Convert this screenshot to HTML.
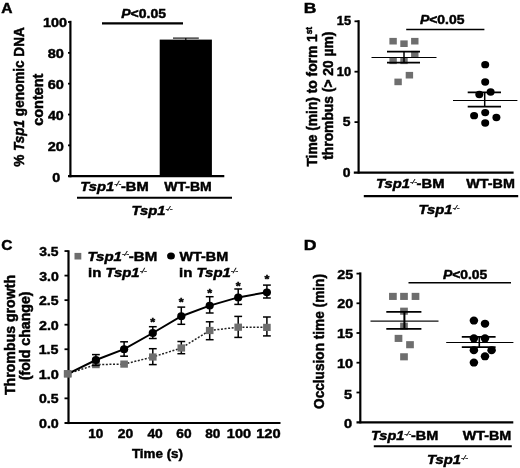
<!DOCTYPE html>
<html><head><meta charset="utf-8"><title>Figure</title>
<style>html,body{margin:0;padding:0;background:#fff}svg{display:block}text{font-family:"Liberation Sans",Arial,sans-serif;font-weight:bold;fill:#000;stroke:#000;stroke-width:0.45px}</style>
</head><body>
<svg width="520" height="468" viewBox="0 0 520 468">
<rect width="520" height="468" fill="#fff"/>
<text transform="translate(1.34,13.30) scale(1.1135,1)" font-size="14">A</text>
<line x1="70.4" y1="20.8" x2="70.4" y2="177.3" stroke="#000" stroke-width="2.2" />
<line x1="68" y1="176.2" x2="224.3" y2="176.2" stroke="#000" stroke-width="2.2" />
<text transform="translate(52.35,182.20) scale(1.1040,1)" font-size="13">0</text>
<line x1="68" y1="145.36" x2="70.4" y2="145.36" stroke="#000" stroke-width="1.8" />
<text transform="translate(47.64,150.80) scale(1.1185,1)" font-size="13">20</text>
<line x1="68" y1="114.52" x2="70.4" y2="114.52" stroke="#000" stroke-width="1.8" />
<text transform="translate(47.93,120.10) scale(1.0982,1)" font-size="13">40</text>
<line x1="68" y1="83.68" x2="70.4" y2="83.68" stroke="#000" stroke-width="1.8" />
<text transform="translate(47.64,88.50) scale(1.1185,1)" font-size="13">60</text>
<line x1="68" y1="52.84" x2="70.4" y2="52.84" stroke="#000" stroke-width="1.8" />
<text transform="translate(47.64,57.70) scale(1.1185,1)" font-size="13">80</text>
<line x1="68" y1="22.0" x2="70.4" y2="22.0" stroke="#000" stroke-width="1.8" />
<text transform="translate(43.07,27.20) scale(1.1062,1)" font-size="13">100</text>
<rect x="159.7" y="39.6" width="52.2" height="137.2" fill="#000"/>
<line x1="185.8" y1="38" x2="185.8" y2="40" stroke="#000" stroke-width="1.2" />
<line x1="173" y1="38.1" x2="198.8" y2="38.1" stroke="#000" stroke-width="1.1" />
<text transform="translate(121.22,18.00) scale(1.1210,1)" font-size="12.5"><tspan font-style="italic">P</tspan>&lt;0.05</text>
<line x1="102" y1="23.3" x2="183" y2="23.3" stroke="#000" stroke-width="2.2" />
<text transform="translate(24.40,166.87) rotate(-90) scale(1.0859,1.12)" font-size="12.5">% <tspan font-style="italic">Tsp1</tspan> genomic DNA</text>
<text transform="translate(42.90,125.68) rotate(-90) scale(1.1528,1.12)" font-size="12.5">content</text>
<text transform="translate(80.32,190.50) scale(1.1787,1)" font-size="12.5"><tspan font-style="italic">Tsp1</tspan><tspan font-style="italic" font-size="7" dy="-4.2" letter-spacing="-0.3" style="stroke-width:0.25px;font-weight:normal">-/-</tspan><tspan dy="4.2">-BM</tspan></text>
<text transform="translate(164.20,191.30) scale(1.1229,1)" font-size="12.5">WT-BM</text>
<line x1="77" y1="197.7" x2="232" y2="197.7" stroke="#000" stroke-width="2.1" />
<text transform="translate(131.52,215.30) scale(1.1821,1)" font-size="12.5"><tspan font-style="italic">Tsp1</tspan><tspan font-style="italic" font-size="7" dy="-4.2" letter-spacing="-0.3" style="stroke-width:0.25px;font-weight:normal">-/-</tspan></text>
<text transform="translate(303.75,12.80) scale(1.2471,1)" font-size="14">B</text>
<line x1="358.6" y1="20.2" x2="358.6" y2="173.6" stroke="#000" stroke-width="2.2" />
<line x1="353.8" y1="172.7" x2="513.6" y2="172.7" stroke="#000" stroke-width="2.2" />
<text transform="translate(342.76,176.80) scale(1.0720,1)" font-size="13">0</text>
<line x1="354.5" y1="122.1" x2="358.8" y2="122.1" stroke="#000" stroke-width="1.8" />
<text transform="translate(342.76,126.40) scale(1.0720,1)" font-size="13">5</text>
<line x1="354.5" y1="71.7" x2="358.8" y2="71.7" stroke="#000" stroke-width="1.8" />
<text transform="translate(336.76,75.70) scale(0.9887,1)" font-size="13">10</text>
<line x1="354.5" y1="21.3" x2="358.8" y2="21.3" stroke="#000" stroke-width="1.8" />
<text transform="translate(336.76,24.90) scale(0.9887,1)" font-size="13">15</text>
<text transform="translate(316.50,166.58) rotate(-90) scale(1.1042,1.12)" font-size="12.5">Time (min) to form 1<tspan font-size="7.5" dy="-4">st</tspan></text>
<text transform="translate(332.80,159.78) rotate(-90) scale(1.1070,1.12)" font-size="12.5">thrombus (&gt; 20 µm)</text>
<text transform="translate(419.92,23.50) scale(1.1159,1)" font-size="12.5"><tspan font-style="italic">P</tspan>&lt;0.05</text>
<line x1="406.2" y1="29.4" x2="484.4" y2="29.4" stroke="#000" stroke-width="1.5" />
<rect x="389.4" y="37.9" width="7.4" height="6.6" fill="#6e6e6e"/>
<rect x="400.3" y="40.4" width="7.4" height="6.6" fill="#6e6e6e"/>
<rect x="411.1" y="37.9" width="7.4" height="6.6" fill="#6e6e6e"/>
<rect x="411.1" y="50.9" width="7.4" height="6.6" fill="#6e6e6e"/>
<rect x="389.4" y="57.5" width="7.4" height="6.6" fill="#6e6e6e"/>
<rect x="400.3" y="57.5" width="7.4" height="6.6" fill="#6e6e6e"/>
<rect x="405.7" y="71.9" width="7.4" height="6.6" fill="#6e6e6e"/>
<rect x="394.4" y="78.6" width="7.4" height="6.6" fill="#6e6e6e"/>
<line x1="371.5" y1="57.5" x2="436.5" y2="57.5" stroke="#000" stroke-width="1.2" />
<line x1="387" y1="51.7" x2="420" y2="51.7" stroke="#000" stroke-width="1.7" />
<line x1="387" y1="62.7" x2="420" y2="62.7" stroke="#000" stroke-width="1.7" />
<line x1="404" y1="51.7" x2="404" y2="62.7" stroke="#000" stroke-width="1.5" />
<ellipse cx="485.2" cy="64.7" rx="4.0" ry="3.65" fill="#000"/>
<ellipse cx="485.2" cy="82" rx="4.0" ry="3.65" fill="#000"/>
<ellipse cx="479.3" cy="94.5" rx="4.0" ry="3.65" fill="#000"/>
<ellipse cx="490.6" cy="92" rx="4.0" ry="3.65" fill="#000"/>
<ellipse cx="485.2" cy="112.6" rx="4.0" ry="3.65" fill="#000"/>
<ellipse cx="474.1" cy="115.7" rx="4.0" ry="3.65" fill="#000"/>
<ellipse cx="496.4" cy="117.5" rx="4.0" ry="3.65" fill="#000"/>
<ellipse cx="485.2" cy="123" rx="4.0" ry="3.65" fill="#000"/>
<line x1="453" y1="100.5" x2="517.4" y2="100.5" stroke="#000" stroke-width="1.2" />
<line x1="467.7" y1="92.4" x2="501" y2="92.4" stroke="#000" stroke-width="1.7" />
<line x1="467.7" y1="106.6" x2="501" y2="106.6" stroke="#000" stroke-width="1.7" />
<line x1="484.7" y1="92.4" x2="484.7" y2="106.6" stroke="#000" stroke-width="1.5" />
<text transform="translate(376.02,188.20) scale(1.1804,1)" font-size="12.5"><tspan font-style="italic">Tsp1</tspan><tspan font-style="italic" font-size="7" dy="-4.2" letter-spacing="-0.3" style="stroke-width:0.25px;font-weight:normal">-/-</tspan><tspan dy="4.2">-BM</tspan></text>
<text transform="translate(466.30,188.30) scale(1.1470,1)" font-size="12.5">WT-BM</text>
<line x1="363.8" y1="196.1" x2="518.2" y2="196.1" stroke="#000" stroke-width="2.1" />
<text transform="translate(418.52,213.70) scale(1.1821,1)" font-size="12.5"><tspan font-style="italic">Tsp1</tspan><tspan font-style="italic" font-size="7" dy="-4.2" letter-spacing="-0.3" style="stroke-width:0.25px;font-weight:normal">-/-</tspan></text>
<text transform="translate(1.35,250.20) scale(1.1027,1)" font-size="14">C</text>
<line x1="68.5" y1="250.3" x2="68.5" y2="424.1" stroke="#000" stroke-width="2.2" />
<line x1="64.5" y1="423" x2="280.5" y2="423" stroke="#000" stroke-width="2.2" />
<text transform="translate(38.95,428.00) scale(1.1000,1)" font-size="13">0.0</text>
<line x1="64.5" y1="398.35" x2="68.5" y2="398.35" stroke="#000" stroke-width="1.8" />
<text transform="translate(38.96,403.45) scale(1.0841,1)" font-size="13">0.5</text>
<line x1="64.5" y1="373.8" x2="68.5" y2="373.8" stroke="#000" stroke-width="1.8" />
<text transform="translate(38.66,378.90) scale(1.1164,1)" font-size="13">1.0</text>
<line x1="64.5" y1="349.25" x2="68.5" y2="349.25" stroke="#000" stroke-width="1.8" />
<text transform="translate(38.67,354.35) scale(1.1000,1)" font-size="13">1.5</text>
<line x1="64.5" y1="324.7" x2="68.5" y2="324.7" stroke="#000" stroke-width="1.8" />
<text transform="translate(38.95,329.80) scale(1.1000,1)" font-size="13">2.0</text>
<line x1="64.5" y1="300.15" x2="68.5" y2="300.15" stroke="#000" stroke-width="1.8" />
<text transform="translate(38.96,305.25) scale(1.0841,1)" font-size="13">2.5</text>
<line x1="64.5" y1="275.6" x2="68.5" y2="275.6" stroke="#000" stroke-width="1.8" />
<text transform="translate(39.23,280.70) scale(1.0841,1)" font-size="13">3.0</text>
<line x1="64.5" y1="251.05" x2="68.5" y2="251.05" stroke="#000" stroke-width="1.8" />
<text transform="translate(39.23,256.15) scale(1.0686,1)" font-size="13">3.5</text>
<text transform="translate(15.20,395.08) rotate(-90) scale(1.1325,1.12)" font-size="12.5">Thrombus growth</text>
<text transform="translate(30.20,380.25) rotate(-90) scale(1.1325,1.12)" font-size="12.5">(fold change)</text>
<text transform="translate(88.22,437.70) scale(1.0415,1)" font-size="13">10</text>
<text transform="translate(117.87,437.70) scale(1.0667,1)" font-size="13">20</text>
<text transform="translate(147.43,437.70) scale(1.0618,1)" font-size="13">40</text>
<text transform="translate(176.37,437.70) scale(1.0519,1)" font-size="13">60</text>
<text transform="translate(205.18,437.70) scale(1.0444,1)" font-size="13">80</text>
<text transform="translate(226.86,437.70) scale(1.1160,1)" font-size="13">100</text>
<text transform="translate(256.16,437.70) scale(1.1259,1)" font-size="13">120</text>
<text transform="translate(131.93,458.00) scale(1.0717,1)" font-size="12.5">Time (s)</text>
<rect x="74.5" y="252.9" width="6.8" height="6.6" fill="#6e6e6e"/>
<text transform="translate(87.50,260.50) scale(1.2018,1)" font-size="12.5"><tspan font-style="italic">Tsp1</tspan><tspan font-style="italic" font-size="7" dy="-4.2" letter-spacing="-0.3" style="stroke-width:0.25px;font-weight:normal">-/-</tspan><tspan dy="4.2">-BM</tspan></text>
<text transform="translate(88.00,277.30) scale(1.1938,1)" font-size="12.5">in <tspan font-style="italic">Tsp1</tspan><tspan font-style="italic" font-size="7" dy="-4.2" letter-spacing="-0.3" style="stroke-width:0.25px;font-weight:normal">-/-</tspan></text>
<ellipse cx="171" cy="255.9" rx="3.9" ry="3.5" fill="#000"/>
<text transform="translate(179.40,260.50) scale(1.1518,1)" font-size="12.5">WT-BM</text>
<text transform="translate(179.10,277.30) scale(1.1959,1)" font-size="12.5">in <tspan font-style="italic">Tsp1</tspan><tspan font-style="italic" font-size="7" dy="-4.2" letter-spacing="-0.3" style="stroke-width:0.25px;font-weight:normal">-/-</tspan></text>
<polyline points="67.7,373.8 95.9,364.6 124.1,364.1 152.8,357 181.3,348 209.7,330.5 238.2,327.2 266.9,327.4" fill="none" stroke="#222" stroke-width="1.5" stroke-dasharray="2 1.6"/>
<line x1="152.8" y1="348.7" x2="152.8" y2="364.6" stroke="#000" stroke-width="1.5" />
<line x1="148.9" y1="348.7" x2="156.70000000000002" y2="348.7" stroke="#000" stroke-width="1.5" />
<line x1="148.9" y1="364.6" x2="156.70000000000002" y2="364.6" stroke="#000" stroke-width="1.5" />
<line x1="181.3" y1="341.5" x2="181.3" y2="353.7" stroke="#000" stroke-width="1.5" />
<line x1="177.4" y1="341.5" x2="185.20000000000002" y2="341.5" stroke="#000" stroke-width="1.5" />
<line x1="177.4" y1="353.7" x2="185.20000000000002" y2="353.7" stroke="#000" stroke-width="1.5" />
<line x1="209.7" y1="321.8" x2="209.7" y2="339.7" stroke="#000" stroke-width="1.5" />
<line x1="205.79999999999998" y1="321.8" x2="213.6" y2="321.8" stroke="#000" stroke-width="1.5" />
<line x1="205.79999999999998" y1="339.7" x2="213.6" y2="339.7" stroke="#000" stroke-width="1.5" />
<line x1="238.2" y1="316.4" x2="238.2" y2="337.4" stroke="#000" stroke-width="1.5" />
<line x1="234.29999999999998" y1="316.4" x2="242.1" y2="316.4" stroke="#000" stroke-width="1.5" />
<line x1="234.29999999999998" y1="337.4" x2="242.1" y2="337.4" stroke="#000" stroke-width="1.5" />
<line x1="266.9" y1="317" x2="266.9" y2="335.9" stroke="#000" stroke-width="1.5" />
<line x1="263.0" y1="317" x2="270.79999999999995" y2="317" stroke="#000" stroke-width="1.5" />
<line x1="263.0" y1="335.9" x2="270.79999999999995" y2="335.9" stroke="#000" stroke-width="1.5" />
<rect x="63.9" y="370.2" width="7.6" height="7.2" fill="#6e6e6e"/>
<rect x="92.1" y="361.0" width="7.6" height="7.2" fill="#6e6e6e"/>
<rect x="120.3" y="360.5" width="7.6" height="7.2" fill="#6e6e6e"/>
<rect x="149.0" y="353.4" width="7.6" height="7.2" fill="#6e6e6e"/>
<rect x="177.5" y="344.4" width="7.6" height="7.2" fill="#6e6e6e"/>
<rect x="205.9" y="326.9" width="7.6" height="7.2" fill="#6e6e6e"/>
<rect x="234.4" y="323.6" width="7.6" height="7.2" fill="#6e6e6e"/>
<rect x="263.1" y="323.8" width="7.6" height="7.2" fill="#6e6e6e"/>
<polyline points="67.7,373.8 95.9,360 124.1,349.2 152.8,333 181.3,316.2 209.7,305.6 238.2,297.4 266.9,292.3" fill="none" stroke="#000" stroke-width="2"/>
<line x1="95.9" y1="354.6" x2="95.9" y2="365.4" stroke="#000" stroke-width="1.5" />
<line x1="92.0" y1="354.6" x2="99.80000000000001" y2="354.6" stroke="#000" stroke-width="1.5" />
<line x1="92.0" y1="365.4" x2="99.80000000000001" y2="365.4" stroke="#000" stroke-width="1.5" />
<line x1="124.1" y1="341.8" x2="124.1" y2="356.2" stroke="#000" stroke-width="1.5" />
<line x1="120.19999999999999" y1="341.8" x2="128.0" y2="341.8" stroke="#000" stroke-width="1.5" />
<line x1="120.19999999999999" y1="356.2" x2="128.0" y2="356.2" stroke="#000" stroke-width="1.5" />
<line x1="152.8" y1="326.7" x2="152.8" y2="338.5" stroke="#000" stroke-width="1.5" />
<line x1="148.9" y1="326.7" x2="156.70000000000002" y2="326.7" stroke="#000" stroke-width="1.5" />
<line x1="148.9" y1="338.5" x2="156.70000000000002" y2="338.5" stroke="#000" stroke-width="1.5" />
<line x1="181.3" y1="307.1" x2="181.3" y2="324.3" stroke="#000" stroke-width="1.5" />
<line x1="177.4" y1="307.1" x2="185.20000000000002" y2="307.1" stroke="#000" stroke-width="1.5" />
<line x1="177.4" y1="324.3" x2="185.20000000000002" y2="324.3" stroke="#000" stroke-width="1.5" />
<line x1="209.7" y1="296.7" x2="209.7" y2="313" stroke="#000" stroke-width="1.5" />
<line x1="205.79999999999998" y1="296.7" x2="213.6" y2="296.7" stroke="#000" stroke-width="1.5" />
<line x1="205.79999999999998" y1="313" x2="213.6" y2="313" stroke="#000" stroke-width="1.5" />
<line x1="238.2" y1="289" x2="238.2" y2="304.4" stroke="#000" stroke-width="1.5" />
<line x1="234.29999999999998" y1="289" x2="242.1" y2="289" stroke="#000" stroke-width="1.5" />
<line x1="234.29999999999998" y1="304.4" x2="242.1" y2="304.4" stroke="#000" stroke-width="1.5" />
<line x1="266.9" y1="285.1" x2="266.9" y2="298" stroke="#000" stroke-width="1.5" />
<line x1="263.0" y1="285.1" x2="270.79999999999995" y2="285.1" stroke="#000" stroke-width="1.5" />
<line x1="263.0" y1="298" x2="270.79999999999995" y2="298" stroke="#000" stroke-width="1.5" />
<ellipse cx="95.9" cy="360" rx="4.1" ry="3.9" fill="#000"/>
<ellipse cx="124.1" cy="349.2" rx="4.1" ry="3.9" fill="#000"/>
<ellipse cx="152.8" cy="333" rx="4.1" ry="3.9" fill="#000"/>
<ellipse cx="181.3" cy="316.2" rx="4.1" ry="3.9" fill="#000"/>
<ellipse cx="209.7" cy="305.6" rx="4.1" ry="3.9" fill="#000"/>
<ellipse cx="238.2" cy="297.4" rx="4.1" ry="3.9" fill="#000"/>
<ellipse cx="266.9" cy="292.3" rx="4.1" ry="3.9" fill="#000"/>
<rect x="63.9" y="370.2" width="7.6" height="7.2" fill="#6e6e6e"/>
<text transform="translate(150.33,325.90) scale(1.1000,1)" font-size="11.5">*</text>
<text transform="translate(178.83,306.40) scale(1.1000,1)" font-size="11.5">*</text>
<text transform="translate(207.22,296.70) scale(1.1000,1)" font-size="11.5">*</text>
<text transform="translate(235.72,289.70) scale(1.1000,1)" font-size="11.5">*</text>
<text transform="translate(264.43,283.30) scale(1.1000,1)" font-size="11.5">*</text>
<text transform="translate(303.74,249.70) scale(1.2588,1)" font-size="14">D</text>
<line x1="360.3" y1="272.4" x2="360.3" y2="423.4" stroke="#000" stroke-width="2.2" />
<line x1="356.5" y1="422.3" x2="513.3" y2="422.3" stroke="#000" stroke-width="2.2" />
<text transform="translate(344.04,428.40) scale(1.1200,1)" font-size="13">0</text>
<line x1="356.5" y1="392.5" x2="360.3" y2="392.5" stroke="#000" stroke-width="1.8" />
<text transform="translate(344.04,398.50) scale(1.1200,1)" font-size="13">5</text>
<line x1="356.5" y1="362.7" x2="360.3" y2="362.7" stroke="#000" stroke-width="1.8" />
<text transform="translate(336.96,368.40) scale(1.1170,1)" font-size="13">10</text>
<line x1="356.5" y1="333" x2="360.3" y2="333" stroke="#000" stroke-width="1.8" />
<text transform="translate(336.96,338.20) scale(1.1170,1)" font-size="13">15</text>
<line x1="356.5" y1="303.3" x2="360.3" y2="303.3" stroke="#000" stroke-width="1.8" />
<text transform="translate(337.25,308.20) scale(1.0963,1)" font-size="13">20</text>
<line x1="356.5" y1="273.6" x2="360.3" y2="273.6" stroke="#000" stroke-width="1.8" />
<text transform="translate(337.25,278.50) scale(1.0963,1)" font-size="13">25</text>
<text transform="translate(324.30,408.95) rotate(-90) scale(1.0922,1.12)" font-size="12.5">Occlusion time (min)</text>
<text transform="translate(442.92,279.00) scale(1.1108,1)" font-size="12.5"><tspan font-style="italic">P</tspan>&lt;0.05</text>
<line x1="408.5" y1="282.7" x2="511" y2="282.7" stroke="#000" stroke-width="1.6" />
<rect x="389.05" y="292.85" width="7.7" height="7.1" fill="#6e6e6e"/>
<rect x="400.15" y="292.85" width="7.7" height="7.1" fill="#6e6e6e"/>
<rect x="411.65" y="292.85" width="7.7" height="7.1" fill="#6e6e6e"/>
<rect x="400.15" y="307.65" width="7.7" height="7.1" fill="#6e6e6e"/>
<rect x="400.15" y="322.65" width="7.7" height="7.1" fill="#6e6e6e"/>
<rect x="394.65" y="334.85" width="7.7" height="7.1" fill="#6e6e6e"/>
<rect x="406.15" y="341.15" width="7.7" height="7.1" fill="#6e6e6e"/>
<rect x="400.15" y="353.25" width="7.7" height="7.1" fill="#6e6e6e"/>
<line x1="370.5" y1="321.2" x2="438.5" y2="321.2" stroke="#111" stroke-width="1.3" />
<line x1="386.3" y1="311.9" x2="421.4" y2="311.9" stroke="#000" stroke-width="1.7" />
<line x1="386.3" y1="328.9" x2="421.4" y2="328.9" stroke="#000" stroke-width="1.7" />
<line x1="404.4" y1="311.9" x2="404.4" y2="328.9" stroke="#000" stroke-width="2.0" />
<ellipse cx="473.9" cy="320.6" rx="4.25" ry="4.0" fill="#000"/>
<ellipse cx="485" cy="323.7" rx="4.25" ry="4.0" fill="#000"/>
<ellipse cx="473.9" cy="338.3" rx="4.25" ry="4.0" fill="#000"/>
<ellipse cx="485" cy="338.3" rx="4.25" ry="4.0" fill="#000"/>
<ellipse cx="473.9" cy="350.2" rx="4.25" ry="4.0" fill="#000"/>
<ellipse cx="491.6" cy="350.2" rx="4.25" ry="4.0" fill="#000"/>
<ellipse cx="485" cy="356.3" rx="4.25" ry="4.0" fill="#000"/>
<ellipse cx="473.9" cy="362.6" rx="4.25" ry="4.0" fill="#000"/>
<line x1="446.2" y1="342.5" x2="513.4" y2="342.5" stroke="#000" stroke-width="1.2" />
<line x1="461.8" y1="336.9" x2="495.6" y2="336.9" stroke="#000" stroke-width="1.7" />
<line x1="461.8" y1="347.1" x2="495.6" y2="347.1" stroke="#000" stroke-width="1.7" />
<line x1="479.3" y1="336.9" x2="479.3" y2="347.1" stroke="#000" stroke-width="1.6" />
<text transform="translate(371.04,440.30) scale(1.1609,1)" font-size="12.5"><tspan font-style="italic">Tsp1</tspan><tspan font-style="italic" font-size="7" dy="-4.2" letter-spacing="-0.3" style="stroke-width:0.25px;font-weight:normal">-/-</tspan><tspan dy="4.2">-BM</tspan></text>
<text transform="translate(462.70,440.30) scale(1.1470,1)" font-size="12.5">WT-BM</text>
<line x1="373.8" y1="446.3" x2="511.8" y2="446.3" stroke="#000" stroke-width="2.1" />
<text transform="translate(427.02,463.70) scale(1.1821,1)" font-size="12.5"><tspan font-style="italic">Tsp1</tspan><tspan font-style="italic" font-size="7" dy="-4.2" letter-spacing="-0.3" style="stroke-width:0.25px;font-weight:normal">-/-</tspan></text>
</svg>
</body></html>
